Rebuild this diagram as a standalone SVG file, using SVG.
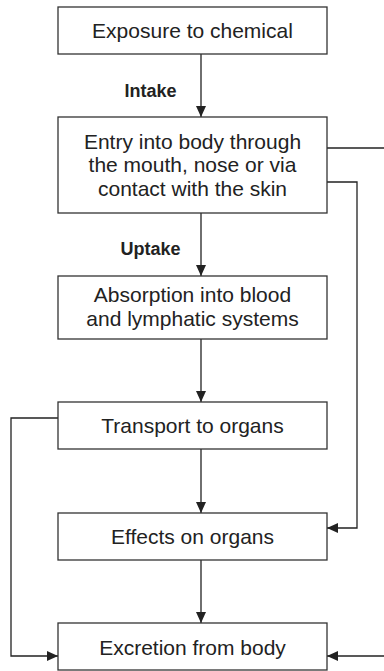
<svg xmlns="http://www.w3.org/2000/svg" width="384" height="671" viewBox="0 0 384 671">
<style>
.box{fill:#fff;stroke:#333;stroke-width:1.3}
.t{font-family:"Liberation Sans",Arial,sans-serif;font-size:21px;fill:#222;text-anchor:middle}
.lb{font-family:"Liberation Sans",Arial,sans-serif;font-size:18px;font-weight:bold;fill:#222;text-anchor:middle}
.c{fill:none;stroke:#222;stroke-width:1.3}
</style>
<defs>
<marker id="ah" viewBox="0 0 11 11" refX="11" refY="5.5" markerWidth="11" markerHeight="11" markerUnits="userSpaceOnUse" orient="auto">
<path d="M0,0.5 L11,5.5 L0,10.5 Z" fill="#222"/>
</marker>
</defs>
<g id="connectors">
<line class="c" x1="201" y1="54" x2="201" y2="117" marker-end="url(#ah)"/>
<line class="c" x1="201" y1="213" x2="201" y2="276" marker-end="url(#ah)"/>
<line class="c" x1="201" y1="339" x2="201" y2="402" marker-end="url(#ah)"/>
<line class="c" x1="201" y1="449" x2="201" y2="513" marker-end="url(#ah)"/>
<line class="c" x1="201" y1="560" x2="201" y2="623" marker-end="url(#ah)"/>
<polyline class="c" points="327,148 384,148"/>
<polyline class="c" points="327,182 357,182 357,528 327,528" marker-end="url(#ah)"/>
<polyline class="c" points="58,418 11,418 11,656 58,656" marker-end="url(#ah)"/>
<polyline class="c" points="384,656 327,656" marker-end="url(#ah)"/>
<text class="lb" x="150.5" y="97">Intake</text>
<text class="lb" x="150.5" y="255">Uptake</text>
</g>
<g id="exposure">
<rect class="box" x="58" y="7" width="269" height="47"/>
<text class="t" x="192.5" y="38">Exposure to chemical</text>
</g>
<g id="entry">
<rect class="box" x="58" y="117" width="269" height="96"/>
<text class="t" x="192.5" y="148.5">Entry into body through</text>
<text class="t" x="192.5" y="172">the mouth, nose or via</text>
<text class="t" x="192.5" y="195.5">contact with the skin</text>
</g>
<g id="absorption">
<rect class="box" x="58" y="276" width="269" height="63"/>
<text class="t" x="192.5" y="302">Absorption into blood</text>
<text class="t" x="192.5" y="325.5">and lymphatic systems</text>
</g>
<g id="transport">
<rect class="box" x="58" y="402" width="269" height="47"/>
<text class="t" x="192.5" y="433">Transport to organs</text>
</g>
<g id="effects">
<rect class="box" x="58" y="513" width="269" height="47"/>
<text class="t" x="192.5" y="544">Effects on organs</text>
</g>
<g id="excretion">
<rect class="box" x="58" y="623" width="269" height="47"/>
<text class="t" x="192.5" y="655">Excretion from body</text>
</g>
</svg>
